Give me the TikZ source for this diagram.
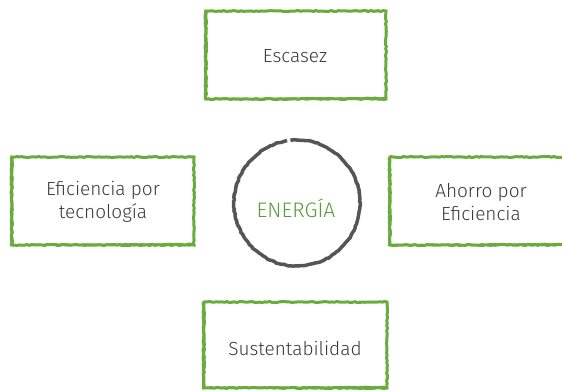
\documentclass[tikz,border=0pt]{standalone}
\usepackage{fontspec}
\setmainfont{Fira Sans}[UprightFont=* Light]
\usetikzlibrary{decorations.pathmorphing}
\definecolor{boxgreen}{HTML}{6AAB3E}
\definecolor{txtgreen}{HTML}{5A9A3C}
\definecolor{txtgray}{HTML}{3A3A3A}
\definecolor{ringgray}{HTML}{555555}
\tikzset{
  lbl/.style={text=txtgray, font=\fontsize{19}{23}\selectfont, align=center, inner sep=0pt},
  rough/.style={decorate, decoration={random steps, segment length=2.5pt, amplitude=0.5pt}},
  frame/.style={rough, draw=boxgreen, line width=3pt},
  frameshade/.style={rough, draw=boxgreen, line width=2pt},
  ring/.style={rough, draw=ringgray, line width=3.5pt},
}
\begin{document}
\begin{tikzpicture}[x=1pt,y=-1pt]
\pgfmathsetseed{7}
\useasboundingbox (0,0) rectangle (562,391);
% box anchors
\coordinate (tnw) at (206,11); \coordinate (tse) at (386,99);
\coordinate (lnw) at (12,157); \coordinate (lse) at (194,245);
\coordinate (rnw) at (390,157); \coordinate (rse) at (574,245);
\coordinate (bnw) at (204,302); \coordinate (bse) at (387,388);
\node[lbl] (top) at (295,56) {Escasez};
\node[lbl] (left) at (103,202) {Eficiencia por\\tecnología};
\node[lbl] (right) at (481,202) {Ahorro por\\Eficiencia};
\node[lbl] (bottom) at (295,348) {Sustentabilidad};
\node[text=txtgreen, font=\fontsize{21}{24}\selectfont, inner sep=0pt] (c) at (296,208) {ENERGÍA};
\coordinate (cc) at (297,203);
% frames
\foreach \a/\b in {tnw/tse, lnw/lse, rnw/rse, bnw/bse}{
  \draw[frame] (\a) rectangle (\b);
  \draw[frameshade] ([xshift=-1pt]\a) -- ([xshift=-1pt]\a |- \b) -- ([yshift=1pt]\b);
}
% ring
\draw[ring] (cc) ++(264:63) arc (264:621:63);
\end{tikzpicture}
\end{document}
